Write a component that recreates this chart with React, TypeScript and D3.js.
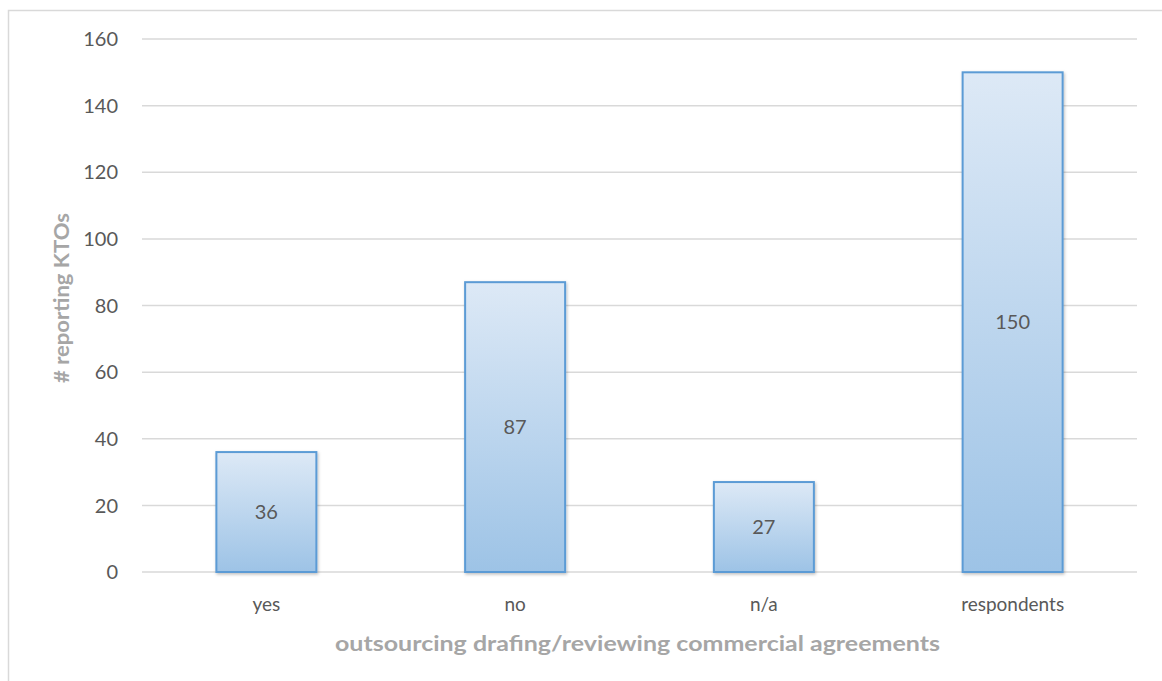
import React from "react";
import * as d3 from "d3";

const categories = ["yes", "no", "n/a", "respondents"];
const values = [36, 87, 27, 150];
const yTicks = [0, 20, 40, 60, 80, 100, 120, 140, 160];
const xTitle = "outsourcing drafing/reviewing commercial agreements";
const yTitle = "# reporting KTOs";

export default function App() {
  const W = 1162, H = 681;
  const left = 142, right = 1137, top = 39, bottom = 572;
  const x = d3.scaleBand<string>().domain(categories).range([left, right]).paddingInner(0).paddingOuter(0);
  const y = d3.scaleLinear().domain([0, 160]).range([bottom, top]);
  const barW = 100;
  const font = "Lato, 'Open Sans', sans-serif";
  return (
    <svg width={W} height={H} style={{ position: "absolute", left: 0, top: 0, background: "#fff" }} fontFamily={font}>
      <defs>
        <linearGradient id="barGrad" x1="0" y1="0" x2="0" y2="1">
          <stop offset="0%" stopColor="#DDE9F6" />
          <stop offset="100%" stopColor="#9DC3E6" />
        </linearGradient>
        <filter id="shadow" x="-10%" y="-10%" width="130%" height="130%">
          <feDropShadow dx="1" dy="1.5" stdDeviation="1.5" floodColor="#000" floodOpacity="0.25" />
        </filter>
      </defs>
      <rect x={8.5} y={10.5} width={W + 10} height={H + 10} fill="#fff" stroke="#D9D9D9" strokeWidth={1.5} />
      {yTicks.map((t) => (
        <g key={t}>
          <line x1={left} x2={right} y1={y(t)} y2={y(t)} stroke="#D9D9D9" strokeWidth={1.5} />
          <text x={118} y={y(t)} dy="0.36em" textAnchor="end" fontSize={20} fill="#595959">{t}</text>
        </g>
      ))}
      {categories.map((c, i) => {
        const cx = (x(c) as number) + x.bandwidth() / 2;
        const yt = y(values[i]);
        return (
          <g key={c}>
            <rect x={cx - barW / 2} y={yt} width={barW} height={bottom - yt} fill="url(#barGrad)" stroke="#5B9BD5" strokeWidth={2} filter="url(#shadow)" />
            <text x={cx} y={(yt + bottom) / 2} dy="0.36em" textAnchor="middle" fontSize={20} fill="#595959">{values[i]}</text>
            <text x={cx} y={604} dy="0.36em" textAnchor="middle" fontSize={19} fill="#595959">{c}</text>
          </g>
        );
      })}
      <text x={(335 + 940) / 2} y={643} dy="0.36em" textAnchor="middle" fontSize={21} fontWeight="bold" fill="#A6A6A6" textLength={605} lengthAdjust="spacingAndGlyphs">{xTitle}</text>
      <text transform={`translate(61, 298) rotate(-90)`} dy="0.36em" textAnchor="middle" fontSize={21} fontWeight="bold" fill="#A6A6A6" textLength={170} lengthAdjust="spacingAndGlyphs">{yTitle}</text>
    </svg>
  );
}
